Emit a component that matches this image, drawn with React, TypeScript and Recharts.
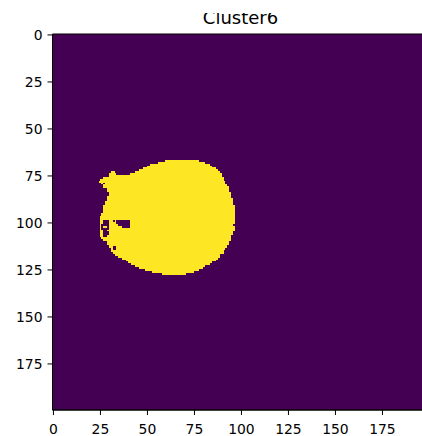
import { ComposedChart, ReferenceArea, XAxis, YAxis } from 'recharts'

// image is 200 x 200 cells, drawn like imshow (cell centres at integers)
const imageSize = 200
const xTicks = [0, 25, 50, 75, 100, 125, 150, 175]
const yTicks = [0, 25, 50, 75, 100, 125, 150, 175]

// yellow runs of the mask: [row, first column, last column]
const yellowRuns: [number, number, number][] = [
  [67, 60, 77], [68, 56, 80], [69, 52, 83], [70, 50, 84], [71, 48, 86],
  [72, 46, 87], [73, 44, 88], [73, 31, 32], [74, 41, 89], [74, 30, 33],
  [75, 30, 89], [76, 27, 90], [77, 25, 90], [78, 25, 91], [79, 26, 91],
  [80, 27, 92], [81, 27, 93], [82, 29, 93], [83, 29, 93], [84, 30, 94],
  [85, 30, 94], [86, 29, 94], [87, 29, 95], [88, 29, 95], [89, 28, 95],
  [90, 28, 95], [91, 27, 96], [92, 27, 96], [93, 27, 96], [94, 27, 96],
  [95, 26, 96], [96, 26, 96], [97, 25, 96], [98, 25, 96], [99, 25, 96],
  [100, 25, 96], [101, 25, 95], [102, 25, 96], [103, 25, 96], [104, 25, 96],
  [105, 25, 95], [106, 25, 95], [107, 25, 94], [108, 26, 94], [109, 27, 94],
  [110, 29, 93], [111, 29, 93], [112, 30, 92], [113, 30, 92], [114, 31, 91],
  [115, 31, 90], [116, 32, 90], [117, 33, 88], [118, 35, 88], [119, 37, 87],
  [120, 39, 86], [121, 40, 84], [122, 42, 83], [123, 44, 80], [124, 46, 79],
  [125, 49, 77], [126, 53, 74], [127, 58, 70],
]

// purple gaps inside the blob: [row, first column, last column]
const holeRuns: [number, number, number][] = [
  [79, 27, 27], [99, 27, 29], [99, 32, 32], [99, 34, 40], [100, 27, 29],
  [100, 34, 40], [101, 26, 29], [101, 35, 40], [102, 26, 26], [102, 29, 29],
  [102, 37, 40], [103, 26, 29], [104, 27, 28], [105, 27, 29], [106, 27, 29],
  [107, 27, 28], [113, 32, 33], [114, 32, 33],
]

const purple = '#440154'
const yellow = '#fde725'

export default function App() {
  const font = { fontFamily: 'DejaVu Sans', fontSize: 13.9, fill: '#000' }
  return (
    <div style={{ position: 'relative', width: 422, height: 436, overflow: 'hidden', fontFamily: 'DejaVu Sans' }}>
      <style>{'body { margin: 0; overflow: hidden; }'}</style>
      <div style={{ position: 'absolute', left: 8, top: 13, width: 414, height: 423, overflow: 'hidden' }}>
        <div
          style={{
            position: 'absolute', left: 0, top: -4, width: 465, textAlign: 'center',
            fontSize: 18, lineHeight: '18px', color: '#000', zIndex: 2,
          }}
        >
          Cluster6
        </div>
        <ComposedChart width={424} height={423} data={[]} margin={{ top: 21, right: 3.5, bottom: 0, left: 0 }}>
          <XAxis
            type="number"
            dataKey="x"
            domain={[-0.5, imageSize - 0.5]}
            allowDataOverflow
            ticks={xTicks}
            interval={0}
            height={26}
            tick={font}
            tickSize={5}
            tickMargin={9}
            stroke="#000"
          />
          <YAxis
            type="number"
            dataKey="y"
            reversed
            domain={[-0.5, imageSize - 0.5]}
            allowDataOverflow
            ticks={yTicks}
            interval={0}
            width={44.5}
            tick={font}
            tickSize={5}
            tickMargin={5}
            stroke="#000"
          />
          <ReferenceArea
            x1={-0.5} x2={imageSize - 0.5} y1={-0.5} y2={imageSize - 0.5}
            fill={purple} fillOpacity={1} stroke="none"
          />
          {yellowRuns.map(([row, from, to], i) => (
            <ReferenceArea
              key={`y${i}`}
              x1={from - 0.5} x2={to + 0.5} y1={row - 0.5} y2={row + 0.5}
              fill={yellow} fillOpacity={1} stroke="none" shapeRendering="crispEdges"
            />
          ))}
          {holeRuns.map(([row, from, to], i) => (
            <ReferenceArea
              key={`h${i}`}
              x1={from - 0.5} x2={to + 0.5} y1={row - 0.5} y2={row + 0.5}
              fill={purple} fillOpacity={1} stroke="none" shapeRendering="crispEdges"
            />
          ))}
          <ReferenceArea
            x1={-0.5} x2={imageSize - 0.5} y1={-0.5} y2={imageSize - 0.5}
            fill="none" fillOpacity={0} stroke="#000" strokeWidth={1}
          />
        </ComposedChart>
      </div>
    </div>
  )
}
